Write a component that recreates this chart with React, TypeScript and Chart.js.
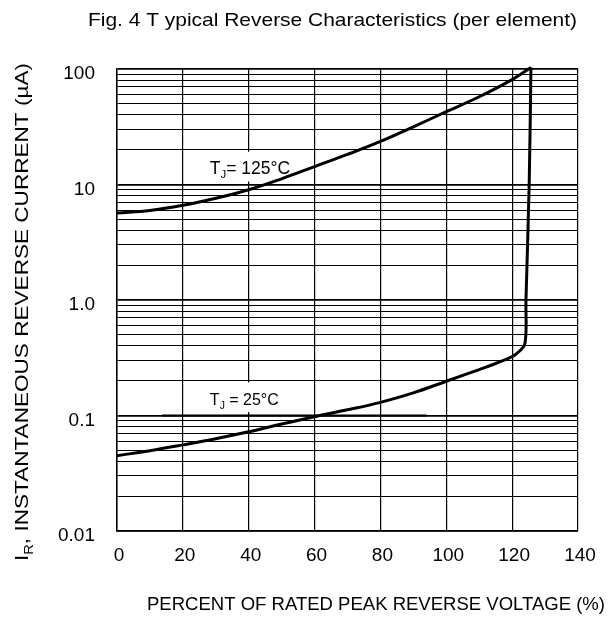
import { useEffect, useRef } from "react";
import { Chart, registerables } from "chart.js";

Chart.register(...registerables);

const FONT = "'Liberation Sans', Arial, Helvetica, sans-serif";

const CHART_TITLE = "Fig. 4 T ypical Reverse Characteristics (per element)";
const X_TITLE = "PERCENT OF RATED PEAK REVERSE VOLTAGE (%)";
const Y_TITLE_MAIN = "I";
const Y_TITLE_SUB = "R";
const Y_TITLE_REST = ", INSTANTANEOUS REVERSE CURRENT (\u00B5A)";

const X_MIN = 0;
const X_MAX = 140;
const X_TICKS = [0, 20, 40, 60, 80, 100, 120, 140];

const Y_MIN = 0.01;
const Y_MAX = 100;
const Y_DECADES = [0.01, 0.1, 1, 10, 100];
const Y_DECADE_LABELS = ["0.01", "0.1", "1.0", "10", "100"];
const Y_MINOR_MULTIPLIERS = [2, 3, 4, 5, 6, 7, 8, 9];

// T_J = 125 °C
const T125_X = [0, 10, 20, 30, 40, 50, 60, 70, 80, 90, 100, 110, 120, 125.7];
const T125_Y = [5.66, 5.95, 6.6, 7.6, 9.0, 11.2, 14.3, 18.2, 23.6, 31.6, 42.7, 57.5, 81, 103];

// T_J = 25 °C
const T25_X = [0, 10, 20, 30, 40, 50, 60, 70, 80, 90, 100, 110, 115, 120, 122, 123.9, 124.2, 125.2, 125.7];
const T25_Y = [0.0449, 0.0496, 0.0557, 0.063, 0.0722, 0.0843, 0.0977, 0.112, 0.13, 0.157, 0.198, 0.25, 0.282, 0.323, 0.356, 0.42, 1.0, 10.9, 103];

// heavier segment on the 0.1 line in the original sheet
const SEG_X = [13.7, 94.1];
const SEG_Y = [0.1, 0.1];

// curve labels (left/baseline in data units) and their white boxes
const LABEL_125 = { x: 28.2, y: 12.3, box: [22, 58, 10.4, 19.6] };
const LABEL_25 = { x: 28.2, y: 0.123, box: [22, 52, 0.105, 0.197] };

type Seg = { t: string; sub?: boolean };

function drawRich(ctx: CanvasRenderingContext2D, segs: Seg[], x: number, y: number, size: number, targetW?: number) {
  ctx.save();
  const subSize = size * 0.65;
  const widths = segs.map((s) => {
    ctx.font = `${s.sub ? subSize : size}px ${FONT}`;
    return ctx.measureText(s.t).width;
  });
  const total = widths.reduce((a, b) => a + b, 0);
  const sx = targetW ? targetW / total : 1;
  ctx.translate(x, y);
  ctx.scale(sx, 1);
  ctx.fillStyle = "#000";
  ctx.textBaseline = "alphabetic";
  ctx.textAlign = "left";
  let cx = 0;
  segs.forEach((s, i) => {
    ctx.font = `${s.sub ? subSize : size}px ${FONT}`;
    ctx.fillText(s.t, cx, s.sub ? size * 0.25 : 0);
    cx += widths[i];
  });
  ctx.restore();
}

const isDecade = (v: number) => Y_DECADES.findIndex((d) => Math.abs(v - d) / d < 1e-6);

const labelsPlugin = {
  id: "labelsPlugin",
  beforeDatasetsDraw(chart: any) {
    const { ctx, scales } = chart;
    const xs = scales.x;
    const ys = scales.y;
    ctx.save();
    [LABEL_125, LABEL_25].forEach((lb) => {
      const [x0, x1, y0, y1] = lb.box;
      const px0 = xs.getPixelForValue(x0);
      const px1 = xs.getPixelForValue(x1);
      const py0 = ys.getPixelForValue(y0);
      const py1 = ys.getPixelForValue(y1);
      ctx.fillStyle = "#fff";
      ctx.fillRect(px0, py1 + 1, px1 - px0, py0 - py1 - 2);
    });
    drawRich(ctx, [{ t: "T" }, { t: "J", sub: true }, { t: "= 125\u00B0C" }],
      xs.getPixelForValue(LABEL_125.x), ys.getPixelForValue(LABEL_125.y), 17.5);
    drawRich(ctx, [{ t: "T" }, { t: "J", sub: true }, { t: " = 25\u00B0C" }],
      xs.getPixelForValue(LABEL_25.x), ys.getPixelForValue(LABEL_25.y), 16);
    ctx.restore();
  },
  afterDraw(chart: any) {
    const { ctx } = chart;
    ctx.save();
    drawRich(ctx, [{ t: CHART_TITLE }], 88, 26, 19, 489);
    drawRich(ctx, [{ t: X_TITLE }], 147, 610, 18.5, 458);
    ctx.save();
    ctx.translate(28, 561);
    ctx.rotate(-Math.PI / 2);
    drawRich(ctx, [{ t: Y_TITLE_MAIN }, { t: Y_TITLE_SUB, sub: true }, { t: Y_TITLE_REST }], 0, 0, 19, 498);
    ctx.restore();
    ctx.restore();
  },
};

export default function App() {
  const ref = useRef<HTMLCanvasElement | null>(null);

  useEffect(() => {
    if (!ref.current) return;
    const yTickValues: number[] = [];
    Y_DECADES.forEach((d, i) => {
      yTickValues.push(d);
      if (i < Y_DECADES.length - 1) Y_MINOR_MULTIPLIERS.forEach((m) => yTickValues.push(d * m));
    });

    const lineDs = (xs: number[], ys: number[], w: number, tension: number) => ({
      data: xs.map((x, i) => ({ x, y: ys[i] })),
      borderColor: "#000",
      borderWidth: w,
      pointRadius: 0,
      fill: false,
      tension,
      clip: false as any,
    });

    const chart = new Chart(ref.current, {
      type: "line",
      data: {
        datasets: [
          lineDs(T125_X, T125_Y, 3, 0.4),
          lineDs(T25_X, T25_Y, 3, 0.4),
          lineDs(SEG_X, SEG_Y, 2, 0),
        ],
      },
      options: {
        animation: false,
        responsive: false,
        maintainAspectRatio: false,
        layout: { padding: { top: 69, right: 35, left: 0, bottom: 0 } },
        plugins: { legend: { display: false }, tooltip: { enabled: false }, title: { display: false } },
        scales: {
          x: {
            type: "linear",
            min: X_MIN,
            max: X_MAX,
            afterBuildTicks: (s: any) => {
              s.ticks = X_TICKS.map((v) => ({ value: v }));
            },
            afterFit: (s: any) => {
              s.height = 87;
            },
            ticks: {
              color: "#000",
              font: { size: 19, family: FONT },
              padding: 13,
              labelOffset: 2,
              maxRotation: 0,
              autoSkip: false,
            },
            grid: { color: "#000", lineWidth: 1.2, drawTicks: false },
            border: { color: "#000", width: 1.5 },
          },
          y: {
            type: "logarithmic",
            min: Y_MIN,
            max: Y_MAX,
            afterBuildTicks: (s: any) => {
              s.ticks = yTickValues.map((v) => ({ value: v }));
            },
            afterFit: (s: any) => {
              s.width = 117;
            },
            ticks: {
              color: "#000",
              font: { size: 19, family: FONT },
              padding: 22,
              labelOffset: 5,
              autoSkip: false,
              callback: (v: any) => {
                const i = isDecade(Number(v));
                return i >= 0 ? Y_DECADE_LABELS[i] : "";
              },
            },
            grid: {
              color: "#000",
              drawTicks: false,
              lineWidth: (c: any) => (c.tick && isDecade(c.tick.value) >= 0 ? 1.8 : 1.1),
            },
            border: { color: "#000", width: 1.5 },
          },
        },
      },
      plugins: [labelsPlugin],
    });
    return () => chart.destroy();
  }, []);

  return (
    <div style={{ position: "absolute", left: 0, top: 0, width: 613, height: 618, background: "#fff" }}>
      <canvas ref={ref} width={613} height={618} style={{ display: "block" }} />
    </div>
  );
}
